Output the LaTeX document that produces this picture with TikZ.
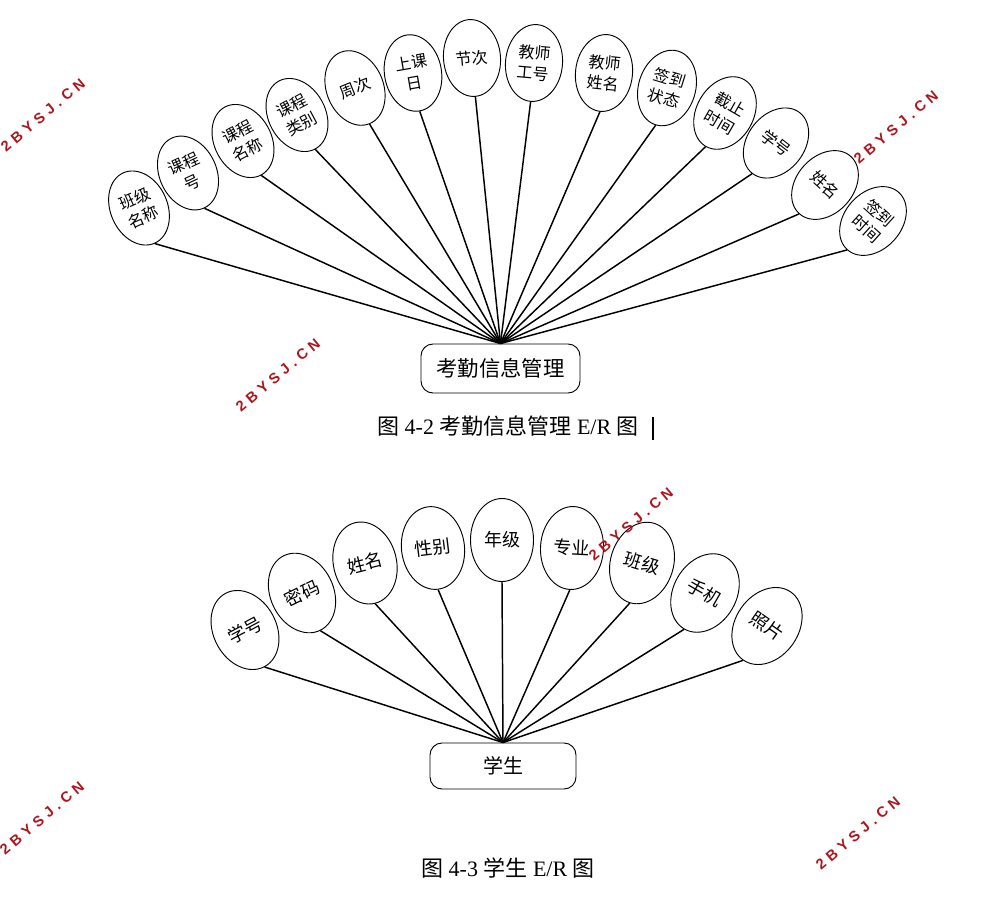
\documentclass[tikz,border=0pt]{standalone}
\usepackage{fontspec}
\setmainfont{Liberation Serif}
\newfontfamily\cjk{Noto Sans CJK SC}
\newfontfamily\wmfont[LetterSpace=32]{Liberation Sans}
\usetikzlibrary{shapes.geometric}
\definecolor{wmred}{RGB}{172,22,28}
\begin{document}
\begin{tikzpicture}[x=0.75pt,y=-0.75pt,
  attr/.style={ellipse, draw, line width=0.7pt, inner sep=0pt,
    minimum width=42.75pt, minimum height=57.75pt,
    font=\cjk\fontsize{12}{15.5}\selectfont, align=center},
  attrb/.style={ellipse, draw, line width=0.7pt, inner sep=0pt,
    minimum width=47.25pt, minimum height=62.25pt,
    font=\cjk\fontsize{13.5}{16}\selectfont, align=center},
  ent/.style={draw, rounded corners=9pt, line width=0.7pt, inner sep=0pt},
  link/.style={line width=1.1pt},
  captxt/.style={font=\fontsize{16.5}{18}\selectfont, inner sep=0pt},
  wm/.style={text=wmred, font=\wmfont\bfseries\fontsize{11}{11}\selectfont, rotate=40, inner sep=0pt}
]
\useasboundingbox (0,0) rectangle (996,914);

% ---------- Figure 4-2 ----------
\node[ent, minimum width=119.25pt, minimum height=36.75pt,
  font=\cjk\fontsize{16}{18}\selectfont] (kq) at (500.5,368.5) {考勤信息管理};

\node[attr, rotate=24] (t1)  at (139,208) {班级\\名称};
\node[attr, rotate=25] (t2)  at (188,173) {课程\\号};
\node[attr, rotate=28] (t3)  at (243,141) {课程\\名称};
\node[attr, rotate=28] (t4)  at (297,115) {课程\\类别};
\node[attr, rotate=22] (t5)  at (355,88)  {周次};
\node[attr, rotate=10] (t6)  at (413,73)  {上课\\日};
\node[attr, rotate=5]  (t7)  at (472,58)  {节次};
\node[attr, rotate=-5] (t8)  at (534,63)  {教师\\工号};
\node[attr, rotate=-6] (t9)  at (604,73)  {教师\\姓名};
\node[attr, rotate=-17] (t10) at (667,88)  {签到\\状态};
\node[attr, rotate=-30] (t11) at (725,113) {截止\\时间};
\node[attr, rotate=-38] (t12) at (776,143) {学号};
\node[attr, rotate=-42] (t13) at (825,185) {姓名};
\node[attr, rotate=-42] (t14) at (873,221) {签到\\时间};

\foreach \i in {1,...,14} {\draw[link] (t\i.south) -- (kq.north);}

\node[captxt] (cap1) at (508,426) {{\cjk 图} 4-2 {\cjk 考勤信息管理} E/R {\cjk 图}};
\coordinate (curTop) at (653,417);
\coordinate (curBot) at (653,440);
\draw[line width=1.4pt] (curTop) -- (curBot);

% ---------- Figure 4-3 ----------
\node[ent, minimum width=109.5pt, minimum height=34.5pt,
  font=\cjk\fontsize{15}{17}\selectfont] (xs) at (503,766) {学生};

\node[attrb, rotate=28]  (b1) at (245,630) {学号};
\node[attrb, rotate=26]  (b2) at (302,593) {密码};
\node[attrb, rotate=14]  (b3) at (365,563) {姓名};
\node[attrb, rotate=7]   (b4) at (433,548) {性别};
\node[attrb, rotate=0]   (b5) at (502,540) {年级};
\node[attrb, rotate=-3]  (b6) at (572,548) {专业};
\node[attrb, rotate=-17] (b7) at (642,563) {班级};
\node[attrb, rotate=-30] (b8) at (705,593) {手机};
\node[attrb, rotate=-35] (b9) at (767,626) {照片};

\foreach \i in {1,...,9} {\draw[link] (b\i.south) -- (xs.north);}

\node[captxt] (cap2) at (508,868) {{\cjk 图} 4-3 {\cjk 学生} E/R {\cjk 图}};

% ---------- watermarks ----------
\node[wm] (w1) at (43,115)  {2BYSJ.CN};
\node[wm] (w2) at (896,127) {2BYSJ.CN};
\node[wm] (w3) at (278,375) {2BYSJ.CN};
\node[wm] (w4) at (631,524) {2BYSJ.CN};
\node[wm] (w5) at (42,818)  {2BYSJ.CN};
\node[wm] (w6) at (858,833) {2BYSJ.CN};
\end{tikzpicture}
\end{document}
